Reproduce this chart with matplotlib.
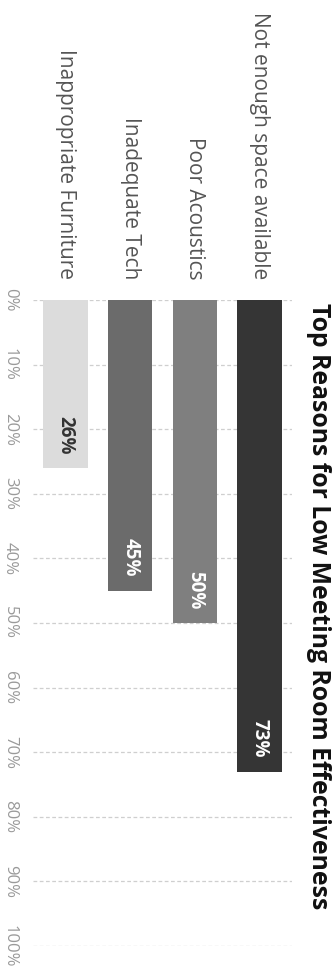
import matplotlib
matplotlib.use("Agg")
import matplotlib.pyplot as plt
import matplotlib.transforms as mtransforms

# Survey results: share of respondents naming each reason
categories = ["Not enough space available", "Poor Acoustics",
              "Inadequate Tech", "Inappropriate Furniture"]
values = [73, 50, 45, 26]
bar_colors = ["#353535", "#7f7f7f", "#6b6b6b", "#dcdcdc"]
label_colors = ["white", "white", "white", "#333333"]
tick_values = list(range(0, 101, 10))
tick_labels = [f"{v}%" for v in tick_values]
title = "Top Reasons for Low Meeting Room Effectiveness"

W, H = 335, 968
fig = plt.figure(figsize=(W / 100, H / 100), dpi=100)
fig.patch.set_facecolor("white")

# Axes in pixel terms: x 33..292, value axis runs downward from y=300 to y=946
left, right, top, bottom = 33, 292, 300, 946
ax = fig.add_axes([left / W, 1 - bottom / H, (right - left) / W, (bottom - top) / H])
ax.set_facecolor("white")

positions = [len(categories) - 1 - i for i in range(len(categories))]
ax.set_xlim(-0.5, len(categories) - 0.5)
ax.set_ylim(100, 0)

for v in tick_values:
    ax.axhline(v, color="#cfcfcf", lw=0.9, ls=(0, (3, 2)), zorder=0)

ax.bar(positions, values, width=0.69, color=bar_colors, zorder=2)

for spine in ax.spines.values():
    spine.set_visible(False)
ax.set_xticks([])
ax.set_yticks([])

# Value labels near the end of each bar
for p, v, c in zip(positions, values, label_colors):
    ax.annotate(f"{v}%", xy=(p, v), xytext=(0, 10), textcoords="offset points",
                rotation=270, ha="center", va="bottom", color=c,
                fontsize=13.5, fontweight="bold", family="Open Sans", zorder=3)

# Category labels above the start of each bar
for p, name in zip(positions, categories):
    ax.annotate(name, xy=(p, 0), xycoords="data", xytext=(0, 15),
                textcoords="offset points", rotation=270, ha="center",
                va="bottom", color="#555555", fontsize=15, family="Open Sans")

# Percentage scale along the left edge
trans = mtransforms.blended_transform_factory(fig.transFigure, ax.transData)
for v, lab in zip(tick_values, tick_labels):
    ax.text(10 / W, v, lab, transform=trans, rotation=270, ha="center",
            va="center", color="#9a9a9a", fontsize=12, family="Open Sans")

fig.text(318 / W, 1 - 303 / H, title, rotation=270, ha="center", va="top",
         fontsize=17.8, fontweight="bold", family="Open Sans", color="#111111")

fig.savefig("out.png", dpi=100, facecolor="white")
